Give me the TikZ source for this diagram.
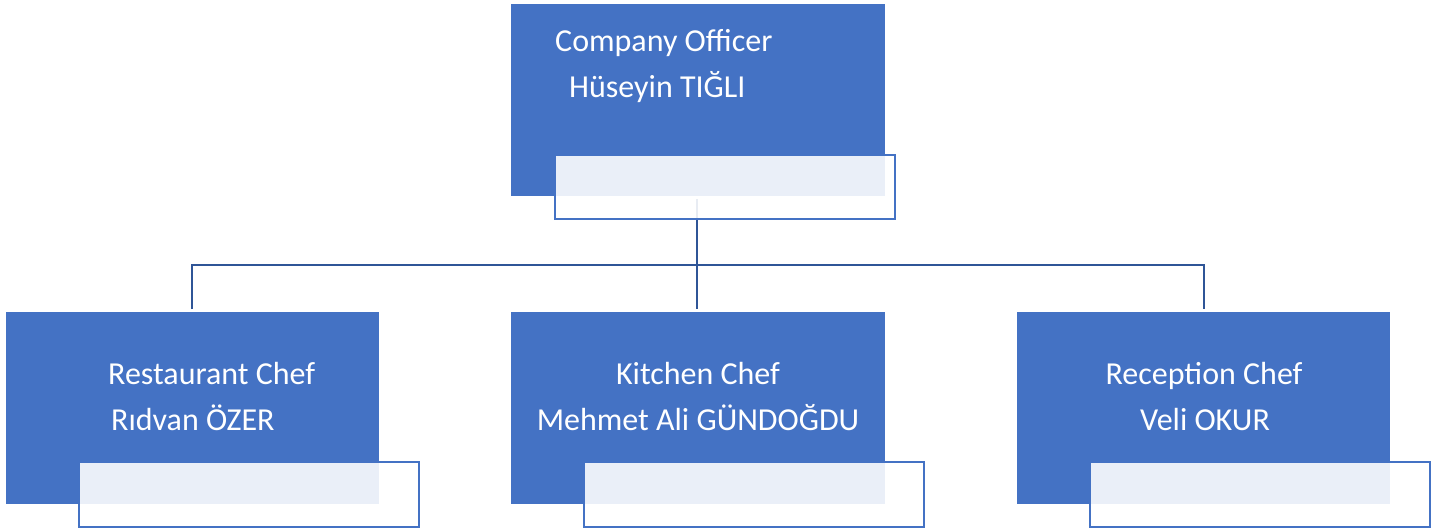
\documentclass[tikz,border=0pt]{standalone}
\usepackage{fontspec}
\setmainfont{Carlito}
\definecolor{boxblue}{HTML}{4472C4}
\definecolor{linkblue}{HTML}{2F5597}
\begin{document}
\begin{tikzpicture}[x=1pt,y=-1pt,
  bluebox/.style={fill=boxblue,draw=none},
  subbox/.style={fill=white,fill opacity=0.89,draw=boxblue,line width=1.8pt,draw opacity=1},
  link/.style={draw=linkblue,line width=2.6pt},
  lbl/.style={text=white,font=\fontsize{32}{38}\selectfont,inner sep=0pt,anchor=base west}]
\useasboundingbox (0,0) rectangle (1439,531);
% connectors (drawn first)
\coordinate (top) at (697,199);
\coordinate (mid) at (697,265);
\coordinate (jl) at (192,265);
\coordinate (jr) at (1204,265);
\coordinate (el) at (192,309);
\coordinate (em) at (697,309);
\coordinate (er) at (1204,309);
\draw[link] (top) -- (mid);
\draw[link] (el) -- (jl) -- (jr) -- (er);
\draw[link] (mid) -- (em);
% top box
\path[bluebox] (511,4) rectangle (885,196);
\path[subbox] (555,155) rectangle (895,219);
\node[lbl] (t1) at (555,51) {Company Officer};
\node[lbl] (t2) at (569,97) {Hüseyin TIĞLI};
% restaurant
\path[bluebox] (6,312) rectangle (379,504);
\path[subbox] (79,462) rectangle (419,527);
\node[lbl] (r1) at (108,384) {Restaurant Chef};
\node[lbl] (r2) at (111,430) {Rıdvan ÖZER};
% kitchen
\path[bluebox] (511,312) rectangle (885,504);
\path[subbox] (584,462) rectangle (924,527);
\node[lbl,anchor=base] (k1) at (698,384) {Kitchen Chef};
\node[lbl,anchor=base] (k2) at (698,430) {Mehmet Ali GÜNDOĞDU};
% reception
\path[bluebox] (1017,312) rectangle (1390,504);
\path[subbox] (1090,462) rectangle (1430,527);
\node[lbl,anchor=base] (c1) at (1204,384) {Reception Chef};
\node[lbl,anchor=base] (c2) at (1205,430) {Veli OKUR};
\end{tikzpicture}
\end{document}
